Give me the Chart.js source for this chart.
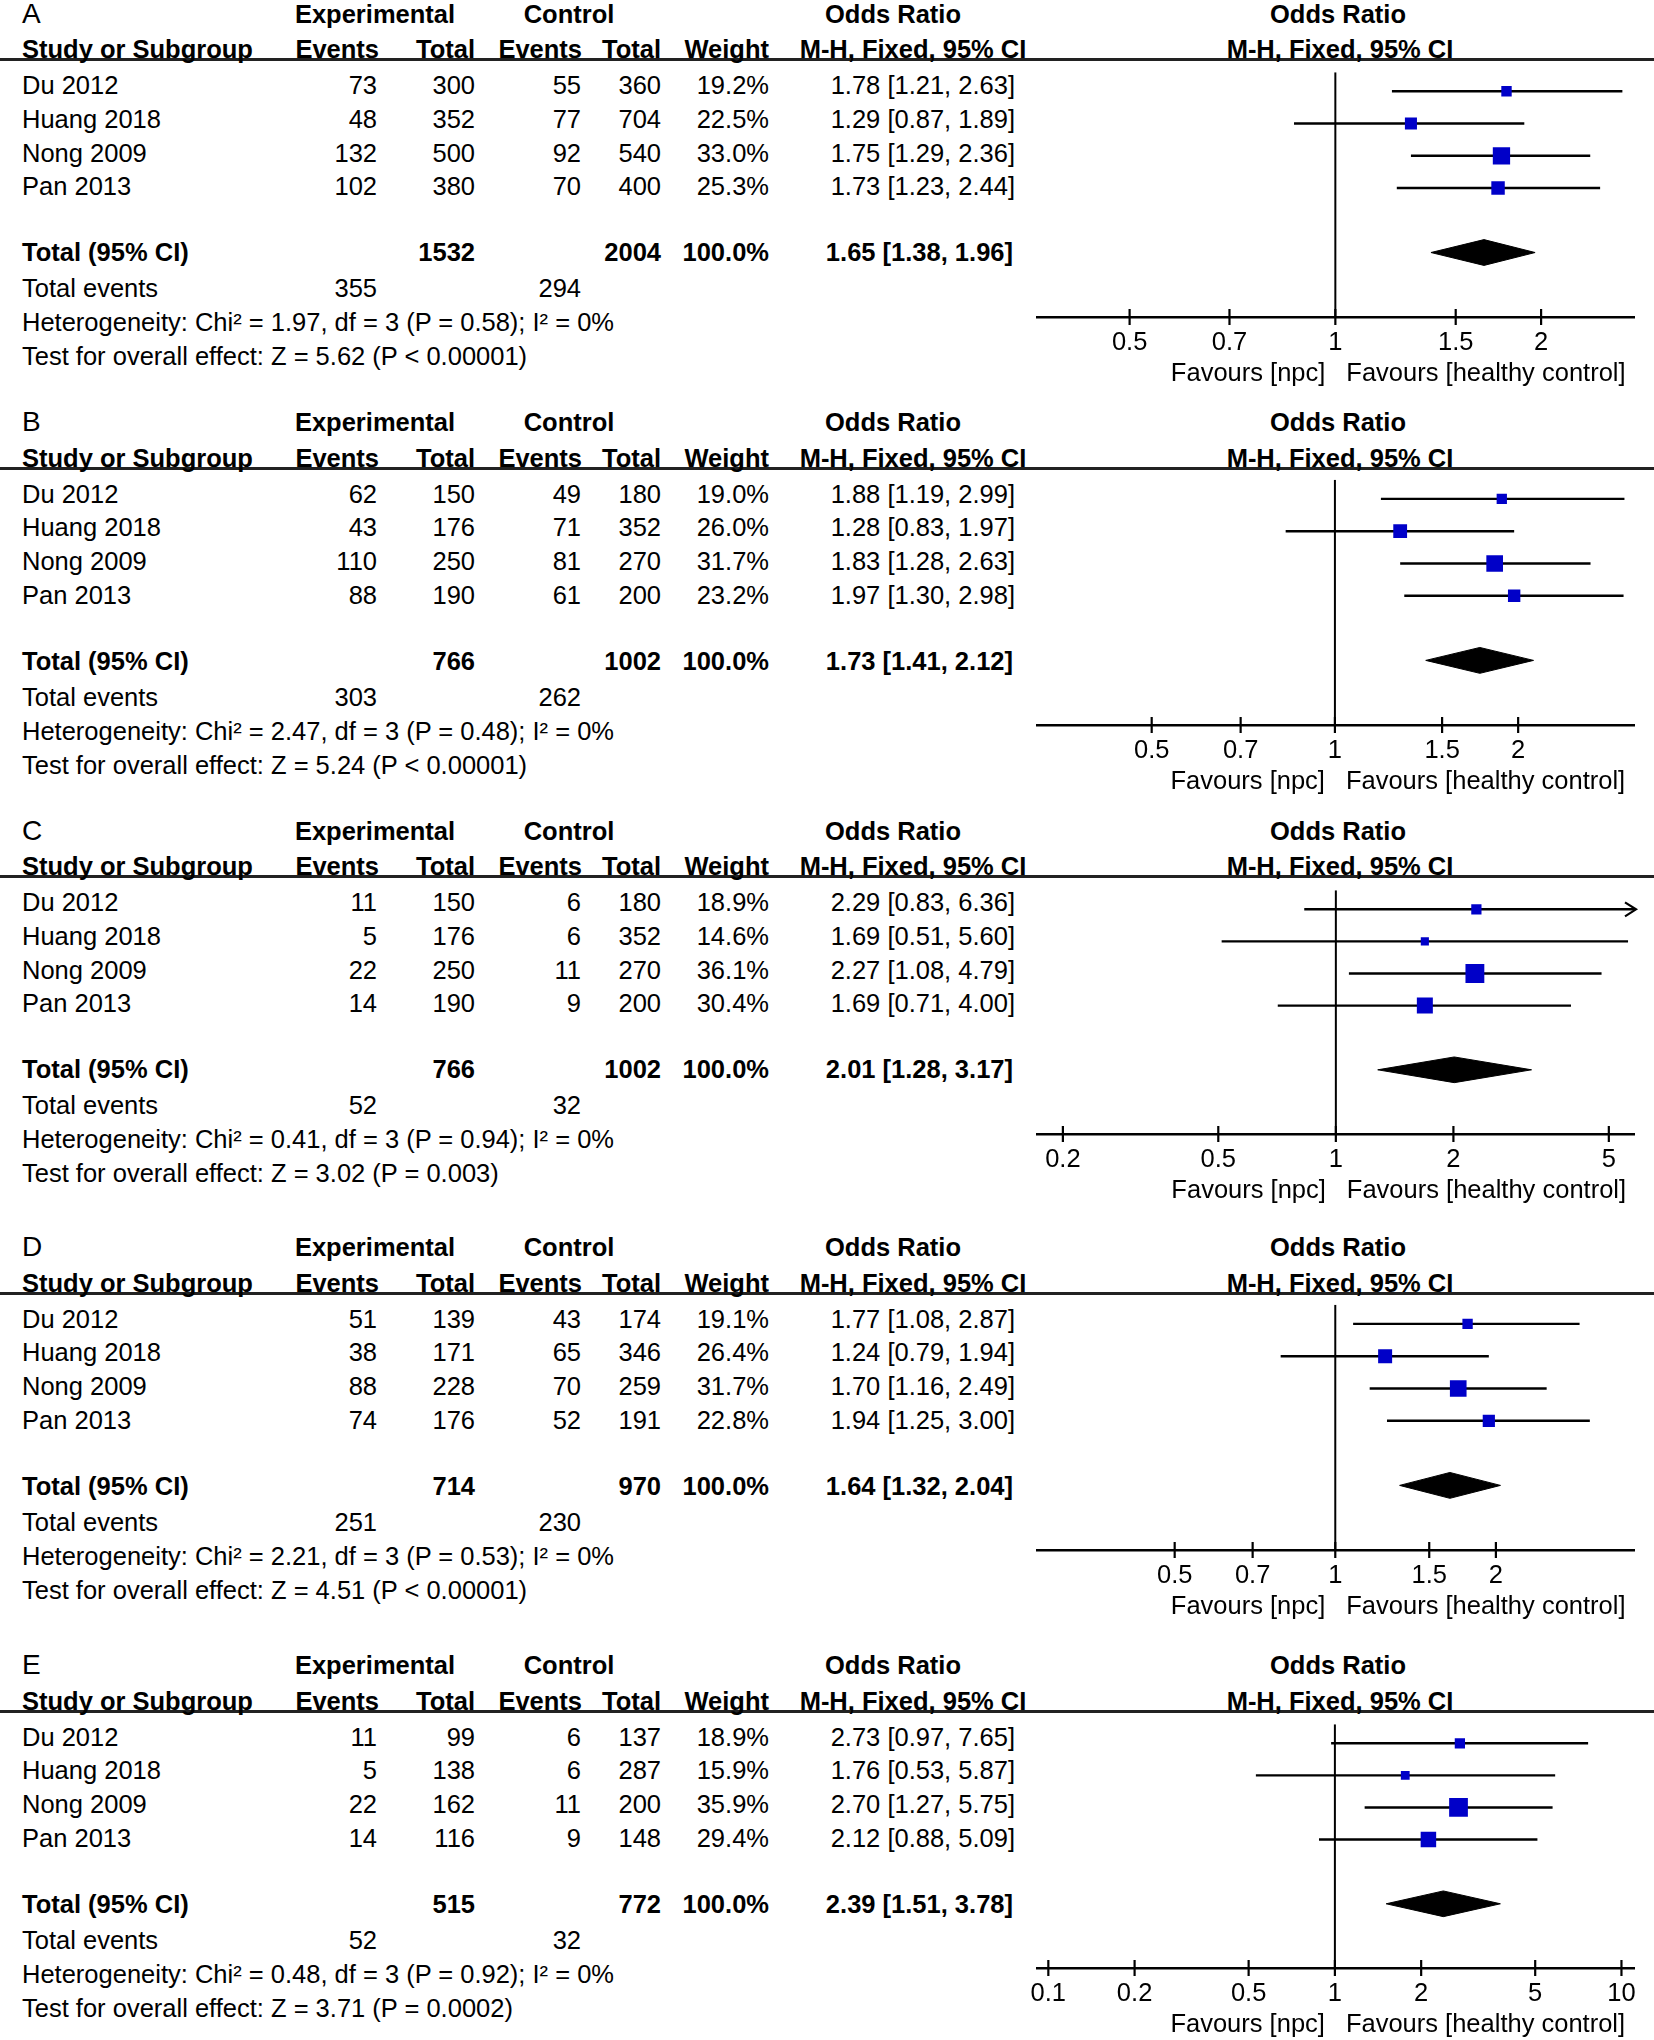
<!DOCTYPE html>
<html>
<head>
<meta charset="utf-8">
<script src="https://cdn.jsdelivr.net/npm/chart.js@4.4.1/dist/chart.umd.min.js"></script>
<style>
html, body { margin: 0; padding: 0; background: #fff; }
#page { position: relative; width: 1654px; height: 2040px; overflow: hidden;
  font-family: "Liberation Sans", Arial, sans-serif; font-size: 25.5px; color: #000; }
.t { position: absolute; white-space: nowrap; line-height: 30px; height: 30px; }
.b { font-weight: bold; }
.rule { position: absolute; left: 0; width: 1654px; height: 3px; background: #222; }
canvas { position: absolute; }
</style>
</head>
<body>
<div id="page"></div>
<script>
// ---------------- DATA ----------------
const panelLabels = ['A', 'B', 'C', 'D', 'E'];
const studies = ['Du 2012', 'Huang 2018', 'Nong 2009', 'Pan 2013'];
const expEvents = [[73, 48, 132, 102], [62, 43, 110, 88], [11, 5, 22, 14], [51, 38, 88, 74], [11, 5, 22, 14]];
const expTotals = [[300, 352, 500, 380], [150, 176, 250, 190], [150, 176, 250, 190], [139, 171, 228, 176], [99, 138, 162, 116]];
const ctlEvents = [[55, 77, 92, 70], [49, 71, 81, 61], [6, 6, 11, 9], [43, 65, 70, 52], [6, 6, 11, 9]];
const ctlTotals = [[360, 704, 540, 400], [180, 352, 270, 200], [180, 352, 270, 200], [174, 346, 259, 191], [137, 287, 200, 148]];
const weights = [[19.2, 22.5, 33.0, 25.3], [19.0, 26.0, 31.7, 23.2], [18.9, 14.6, 36.1, 30.4], [19.1, 26.4, 31.7, 22.8], [18.9, 15.9, 35.9, 29.4]];
const oddsRatios = [[1.78, 1.29, 1.75, 1.73], [1.88, 1.28, 1.83, 1.97], [2.29, 1.69, 2.27, 1.69], [1.77, 1.24, 1.70, 1.94], [2.73, 1.76, 2.70, 2.12]];
const ciLower = [[1.21, 0.87, 1.29, 1.23], [1.19, 0.83, 1.28, 1.30], [0.83, 0.51, 1.08, 0.71], [1.08, 0.79, 1.16, 1.25], [0.97, 0.53, 1.27, 0.88]];
const ciUpper = [[2.63, 1.89, 2.36, 2.44], [2.99, 1.97, 2.63, 2.98], [6.36, 5.60, 4.79, 4.00], [2.87, 1.94, 2.49, 3.00], [7.65, 5.87, 5.75, 5.09]];
const totalExp = [1532, 766, 766, 714, 515];
const totalCtl = [2004, 1002, 1002, 970, 772];
const totalEventsExp = [355, 303, 52, 251, 52];
const totalEventsCtl = [294, 262, 32, 230, 32];
const pooledOR = [1.65, 1.73, 2.01, 1.64, 2.39];
const pooledLower = [1.38, 1.41, 1.28, 1.32, 1.51];
const pooledUpper = [1.96, 2.12, 3.17, 2.04, 3.78];
const heterogeneity = [
  'Heterogeneity: Chi² = 1.97, df = 3 (P = 0.58); I² = 0%',
  'Heterogeneity: Chi² = 2.47, df = 3 (P = 0.48); I² = 0%',
  'Heterogeneity: Chi² = 0.41, df = 3 (P = 0.94); I² = 0%',
  'Heterogeneity: Chi² = 2.21, df = 3 (P = 0.53); I² = 0%',
  'Heterogeneity: Chi² = 0.48, df = 3 (P = 0.92); I² = 0%'
];
const overallEffect = [
  'Test for overall effect: Z = 5.62 (P < 0.00001)',
  'Test for overall effect: Z = 5.24 (P < 0.00001)',
  'Test for overall effect: Z = 3.02 (P = 0.003)',
  'Test for overall effect: Z = 4.51 (P < 0.00001)',
  'Test for overall effect: Z = 3.71 (P = 0.0002)'
];
const axisTicks = [[0.5, 0.7, 1, 1.5, 2], [0.5, 0.7, 1, 1.5, 2], [0.2, 0.5, 1, 2, 5], [0.5, 0.7, 1, 1.5, 2], [0.1, 0.2, 0.5, 1, 2, 5, 10]];
const axisMin = [0.366, 0.324, 0.1717, 0.276, 0.0913];
const axisMax = [2.735, 3.10, 5.80, 3.63, 11.06];

// ---------------- LAYOUT ----------------
const FONT = '"Liberation Sans", Arial, sans-serif';
const FS = 25.5;
const PANEL_TOP = [59.5, 468, 876.5, 1293, 1711];   // y of header rule
const ROW_H = 33.8;
const FIRST_ROW = 20;           // header rule -> first marker
const TEXT_DROP = 5.5;          // text centre below marker line
const TOTAL_ROW = 5;
const AXIS_ROW = 7;
const AXIS_LEFT = 1037, AXIS_RIGHT = 1634, SIDE_PAD = 40;
const X_AXIS_H = 78;
const COL = { name: 22, expEv: 377, expTot: 475, ctlEv: 581, ctlTot: 661, weight: 769, or: 1015 };

const page = document.getElementById('page');
function txt(str, x, yc, align, bold, size) {
  const d = document.createElement('div');
  d.className = 't' + (bold ? ' b' : '');
  d.textContent = str;
  if (size) d.style.fontSize = size + 'px';
  d.style.top = (yc - 15) + 'px';
  if (align === 'left') d.style.left = x + 'px';
  else if (align === 'right') d.style.right = (1654 - x) + 'px';
  else { d.style.left = (x - 300) + 'px'; d.style.width = '600px'; d.style.textAlign = 'center'; }
  page.appendChild(d);
}
const f2 = v => v.toFixed(2);
const orText = (o, l, u) => f2(o) + ' [' + f2(l) + ', ' + f2(u) + ']';
const sideOf = w => 0.5 * w + 0.8;

const forestExtras = {
  id: 'forestExtras',
  afterDraw(chart, args, opts) {
    const p = opts.panel;
    const ctx = chart.ctx, xs = chart.scales.x, ys = chart.scales.y, area = chart.chartArea;
    const yAxis = area.bottom;
    ctx.save();
    ctx.strokeStyle = '#000';
    ctx.lineWidth = 2.2;
    xs.ticks.forEach(t => {
      const px = xs.getPixelForValue(t.value);
      ctx.beginPath(); ctx.moveTo(px, yAxis - 8); ctx.lineTo(px, yAxis + 8); ctx.stroke();
    });
    ciUpper[p].forEach((u, i) => {
      if (u > xs.max) {
        const y = ys.getPixelForValue(i), tip = area.right + 2;
        ctx.beginPath(); ctx.moveTo(tip - 11, y - 7); ctx.lineTo(tip, y); ctx.lineTo(tip - 11, y + 7); ctx.stroke();
      }
    });
    ciLower[p].forEach((l, i) => {
      if (l < xs.min) {
        const y = ys.getPixelForValue(i), tip = area.left - 2;
        ctx.beginPath(); ctx.moveTo(tip + 11, y - 7); ctx.lineTo(tip, y); ctx.lineTo(tip + 11, y + 7); ctx.stroke();
      }
    });
    const zero = xs.getPixelForValue(1);
    ctx.fillStyle = '#000';
    ctx.font = FS + 'px ' + FONT;
    ctx.textBaseline = 'middle';
    ctx.textAlign = 'right';
    ctx.fillText('Favours [npc]', zero - 10, yAxis + 57);
    ctx.textAlign = 'left';
    ctx.fillText('Favours [healthy control]', zero + 11, yAxis + 57);
    ctx.restore();
  }
};

for (let p = 0; p < 5; p++) {
  const L = PANEL_TOP[p];
  const rule = document.createElement('div');
  rule.className = 'rule';
  rule.style.top = (L - 1.5) + 'px';
  page.appendChild(rule);

  const hy1 = L - 46, hy2 = L - 10.5;
  txt(panelLabels[p], 22, hy1, 'left', false, 28);
  txt('Experimental', 375, hy1, 'center', true);
  txt('Control', 569, hy1, 'center', true);
  txt('Odds Ratio', 893, hy1, 'center', true);
  txt('Odds Ratio', 1338, hy1, 'center', true);
  txt('Study or Subgroup', COL.name, hy2, 'left', true);
  txt('Events', COL.expEv + 2, hy2, 'right', true);
  txt('Total', COL.expTot, hy2, 'right', true);
  txt('Events', COL.ctlEv + 1, hy2, 'right', true);
  txt('Total', COL.ctlTot, hy2, 'right', true);
  txt('Weight', COL.weight, hy2, 'right', true);
  txt('M-H, Fixed, 95% CI', 913, hy2, 'center', true);
  txt('M-H, Fixed, 95% CI', 1340, hy2, 'center', true);

  studies.forEach((s, i) => {
    const y = L + FIRST_ROW + TEXT_DROP + i * ROW_H;
    txt(s, COL.name, y, 'left');
    txt(String(expEvents[p][i]), COL.expEv, y, 'right');
    txt(String(expTotals[p][i]), COL.expTot, y, 'right');
    txt(String(ctlEvents[p][i]), COL.ctlEv, y, 'right');
    txt(String(ctlTotals[p][i]), COL.ctlTot, y, 'right');
    txt(weights[p][i].toFixed(1) + '%', COL.weight, y, 'right');
    txt(orText(oddsRatios[p][i], ciLower[p][i], ciUpper[p][i]), COL.or, y, 'right');
  });
  const ty = L + FIRST_ROW + TEXT_DROP + TOTAL_ROW * ROW_H - 2;
  txt('Total (95% CI)', COL.name, ty, 'left', true);
  txt(String(totalExp[p]), COL.expTot, ty, 'right', true);
  txt(String(totalCtl[p]), COL.ctlTot, ty, 'right', true);
  txt('100.0%', COL.weight, ty, 'right', true);
  txt(orText(pooledOR[p], pooledLower[p], pooledUpper[p]), COL.or - 2, ty, 'right', true);
  txt('Total events', COL.name, ty + 36, 'left');
  txt(String(totalEventsExp[p]), COL.expEv, ty + 36, 'right');
  txt(String(totalEventsCtl[p]), COL.ctlEv, ty + 36, 'right');
  txt(heterogeneity[p], COL.name, ty + 70, 'left');
  txt(overallEffect[p], COL.name, ty + 104, 'left');

  const yTop = -FIRST_ROW / ROW_H;
  const chartH = FIRST_ROW + AXIS_ROW * ROW_H;
  const cv = document.createElement('canvas');
  const cw = AXIS_RIGHT - AXIS_LEFT + 2 * SIDE_PAD;
  const ch = Math.round(chartH + X_AXIS_H);
  cv.width = cw; cv.height = ch;
  cv.style.left = (AXIS_LEFT - SIDE_PAD) + 'px';
  cv.style.top = L + 'px';
  cv.style.width = cw + 'px'; cv.style.height = ch + 'px';
  page.appendChild(cv);

  const datasets = [];
  datasets.push({
    type: 'scatter', label: 'Studies',
    data: oddsRatios[p].map((v, i) => ({ x: v, y: i })),
    pointStyle: 'rect',
    pointRadius: weights[p].map(w => sideOf(w) / Math.SQRT2),
    pointHoverRadius: weights[p].map(w => sideOf(w) / Math.SQRT2),
    backgroundColor: '#0000c8', borderColor: '#0000c8', borderWidth: 0, order: 0
  });
  oddsRatios[p].forEach((v, i) => {
    datasets.push({
      type: 'line', label: 'CI ' + studies[i],
      data: [{ x: ciLower[p][i], y: i }, { x: ciUpper[p][i], y: i }],
      borderColor: '#000', borderWidth: 2.4, pointRadius: 0, fill: false, tension: 0, order: 1
    });
  });
  datasets.push({
    type: 'line', label: 'Pooled upper',
    data: [{ x: pooledLower[p], y: TOTAL_ROW }, { x: pooledOR[p], y: TOTAL_ROW - 0.4 }, { x: pooledUpper[p], y: TOTAL_ROW }],
    borderColor: '#000', borderWidth: 1, backgroundColor: '#000', pointRadius: 0, fill: '+1', tension: 0, order: 1
  });
  datasets.push({
    type: 'line', label: 'Pooled lower',
    data: [{ x: pooledLower[p], y: TOTAL_ROW }, { x: pooledOR[p], y: TOTAL_ROW + 0.4 }, { x: pooledUpper[p], y: TOTAL_ROW }],
    borderColor: '#000', borderWidth: 1, backgroundColor: '#000', pointRadius: 0, fill: false, tension: 0, order: 1
  });
  datasets.push({
    type: 'line', label: 'No effect',
    data: [{ x: 1, y: yTop }, { x: 1, y: AXIS_ROW }],
    borderColor: '#000', borderWidth: 2, pointRadius: 0, fill: false, tension: 0, order: 2
  });

  new Chart(cv, {
    type: 'scatter',
    data: { datasets },
    options: {
      responsive: false, animation: false, events: [],
      layout: { padding: { left: SIDE_PAD, right: SIDE_PAD, top: 0, bottom: 0 } },
      plugins: { legend: { display: false }, tooltip: { enabled: false }, forestExtras: { panel: p } },
      scales: {
        x: {
          type: 'logarithmic', position: 'bottom', min: axisMin[p], max: axisMax[p], bounds: 'data',
          afterBuildTicks: s => { s.ticks = axisTicks[p].map(v => ({ value: v })); },
          afterFit: s => { s.height = X_AXIS_H; },
          grid: { display: true, drawOnChartArea: false, drawTicks: false },
          border: { display: true, color: '#000', width: 2.5 },
          ticks: { autoSkip: false, maxRotation: 0, minRotation: 0, padding: 11, color: '#000',
                   font: { family: FONT, size: FS }, callback: v => String(v) }
        },
        y: { type: 'linear', display: false, reverse: true, min: yTop, max: AXIS_ROW }
      }
    },
    plugins: [forestExtras]
  });
}
</script>
</body>
</html>
